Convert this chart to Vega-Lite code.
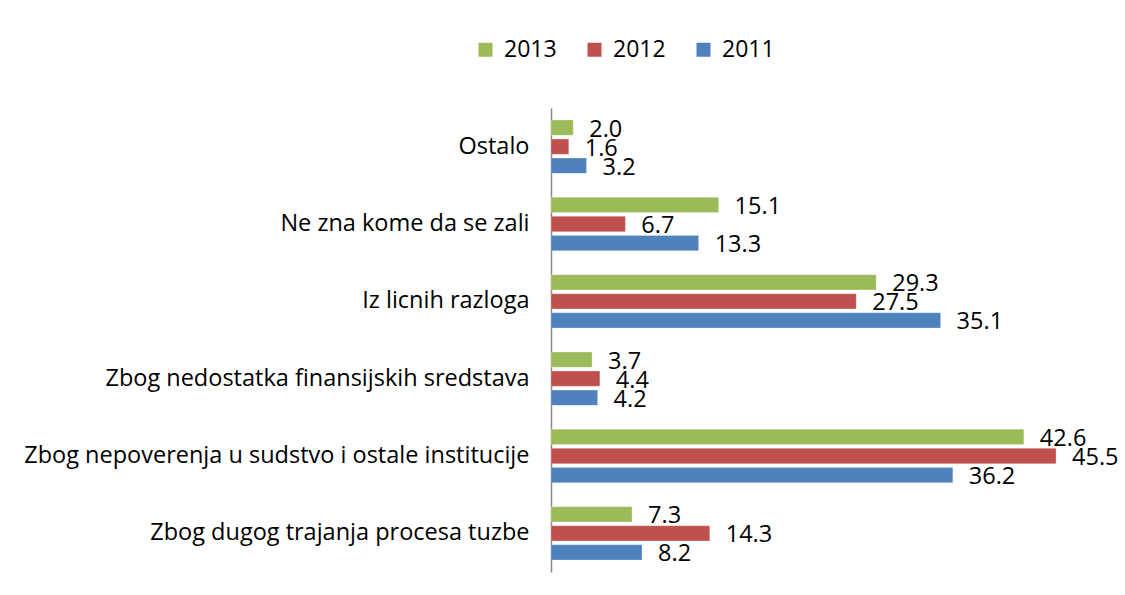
{
  "$schema": "https://vega.github.io/schema/vega-lite/v6.json",
  "autosize": {"type": "none"},
  "padding": {"left": 551, "top": 108, "right": 19, "bottom": 23},
  "width": 555,
  "height": 464,
  "background": "white",
  "config": {
    "view": {"stroke": null},
    "font": "Open Sans"
  },
  "data": {
    "values": [
      {"cat": "Ostalo", "year": "2013", "value": 2.0},
      {"cat": "Ostalo", "year": "2012", "value": 1.6},
      {"cat": "Ostalo", "year": "2011", "value": 3.2},
      {"cat": "Ne zna kome da se zali", "year": "2013", "value": 15.1},
      {"cat": "Ne zna kome da se zali", "year": "2012", "value": 6.7},
      {"cat": "Ne zna kome da se zali", "year": "2011", "value": 13.3},
      {"cat": "Iz licnih razloga", "year": "2013", "value": 29.3},
      {"cat": "Iz licnih razloga", "year": "2012", "value": 27.5},
      {"cat": "Iz licnih razloga", "year": "2011", "value": 35.1},
      {"cat": "Zbog nedostatka finansijskih sredstava", "year": "2013", "value": 3.7},
      {"cat": "Zbog nedostatka finansijskih sredstava", "year": "2012", "value": 4.4},
      {"cat": "Zbog nedostatka finansijskih sredstava", "year": "2011", "value": 4.2},
      {"cat": "Zbog nepoverenja u sudstvo i ostale institucije", "year": "2013", "value": 42.6},
      {"cat": "Zbog nepoverenja u sudstvo i ostale institucije", "year": "2012", "value": 45.5},
      {"cat": "Zbog nepoverenja u sudstvo i ostale institucije", "year": "2011", "value": 36.2},
      {"cat": "Zbog dugog trajanja procesa tuzbe", "year": "2013", "value": 7.3},
      {"cat": "Zbog dugog trajanja procesa tuzbe", "year": "2012", "value": 14.3},
      {"cat": "Zbog dugog trajanja procesa tuzbe", "year": "2011", "value": 8.2}
    ]
  },
  "encoding": {
    "y": {
      "field": "cat",
      "type": "nominal",
      "sort": null,
      "scale": {"paddingInner": 0.26, "paddingOuter": 0.13},
      "axis": {
        "title": null,
        "ticks": false,
        "domainColor": "#868686",
        "domainWidth": 1.5,
        "labelFontSize": 23.5,
        "labelColor": "#000000",
        "labelPadding": 22,
        "labelLimit": 600
      }
    },
    "yOffset": {
      "field": "year",
      "type": "nominal",
      "sort": ["2013", "2012", "2011"],
      "scale": {"paddingInner": 0.2, "paddingOuter": 0.1}
    },
    "x": {
      "field": "value",
      "type": "quantitative",
      "scale": {"domain": [0, 50]},
      "axis": null
    }
  },
  "layer": [
    {
      "mark": {"type": "bar", "stroke": "white", "strokeWidth": 0.5, "strokeOpacity": 0.5},
      "encoding": {
        "color": {
          "field": "year",
          "type": "nominal",
          "scale": {"domain": ["2013", "2012", "2011"], "range": ["#9BBB59", "#C0504D", "#4F81BD"]},
          "legend": {
            "title": null,
            "orient": "none",
            "direction": "horizontal",
            "legendX": -77,
            "legendY": -70,
            "symbolType": "square",
            "symbolSize": 196,
            "symbolStrokeWidth": 0,
            "labelFontSize": 23,
            "labelColor": "#000000",
            "labelOffset": 7,
            "columnPadding": 26
          }
        }
      }
    },
    {
      "mark": {"type": "text", "align": "left", "baseline": "middle", "dx": 16, "dy": 2, "fontSize": 23.5, "color": "#000000"},
      "encoding": {
        "text": {"field": "value", "type": "quantitative", "format": ".1f"}
      }
    }
  ]
}
